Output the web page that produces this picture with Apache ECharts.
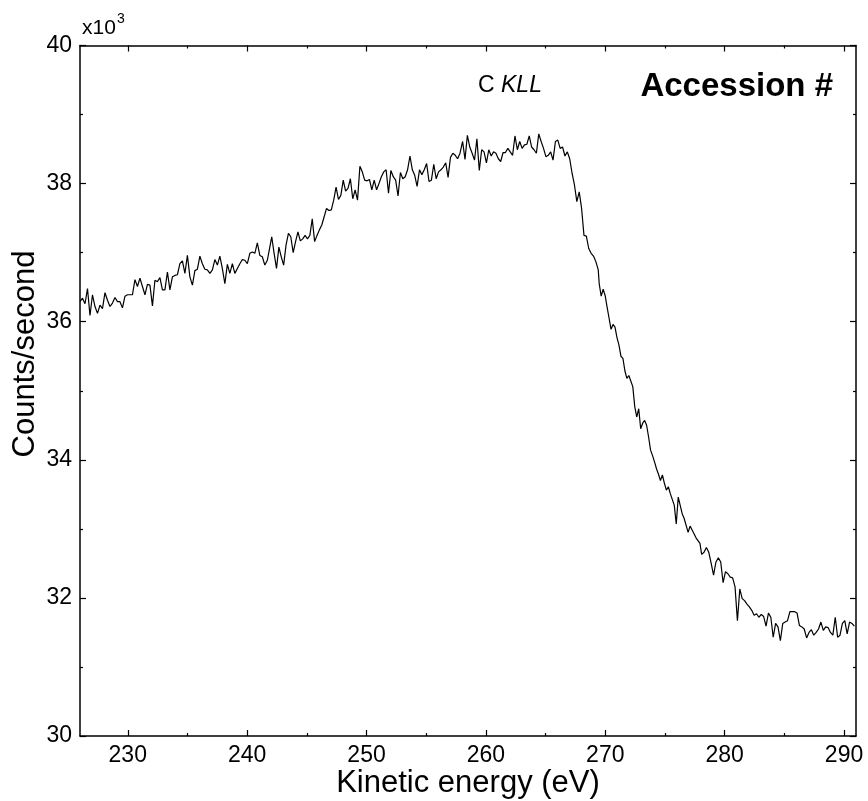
<!DOCTYPE html>
<html>
<head>
<meta charset="utf-8">
<script src="https://cdn.jsdelivr.net/npm/echarts@6/dist/echarts.min.js"></script>
<style>
  html, body { margin: 0; padding: 0; background: #fff; }
  #chart { width: 868px; height: 801px; }
</style>
</head>
<body>
<div id="chart"></div>
<script>
// C KLL Auger region, counts/second in units of 10^3
// each segment: energy where it starts / ends, and the readings in between
var seg1Range = [226.0, 241.9];
var seg1 = [36.29, 36.34, 36.26, 36.48, 36.09, 36.39, 36.22, 36.12, 36.24, 36.19, 36.42, 36.31, 36.22, 36.27, 36.35, 36.29,
    36.29, 36.20, 36.37, 36.39, 36.39, 36.39, 36.61, 36.51, 36.63, 36.51, 36.39, 36.54, 36.53, 36.23, 36.60, 36.58,
    36.64, 36.46, 36.46, 36.72, 36.46, 36.65, 36.67, 36.68, 36.84, 36.88, 36.70, 36.96, 36.65, 36.53, 36.74, 36.76,
    36.95, 36.84, 36.76, 36.75, 36.70, 36.75, 36.90, 36.82, 36.95, 36.77, 36.55, 36.83, 36.70, 36.84, 36.70, 36.77,
    36.84, 36.90, 36.89, 36.84, 36.99, 37.01, 36.99, 37.14, 36.96, 36.94, 36.82, 36.89, 37.08];

var seg2Range = [242.06, 257.83];
var seg2 = [37.23, 36.99, 36.77, 37.08, 36.94, 36.82, 37.11, 37.28, 37.23, 37.00, 37.16, 37.30, 37.17, 37.20, 37.25, 37.20,
    37.25, 37.49, 37.16, 37.25, 37.33, 37.40, 37.52, 37.64, 37.61, 37.62, 37.76, 37.95, 37.77, 37.83, 38.05, 37.89,
    37.93, 38.07, 37.78, 37.91, 37.76, 38.25, 38.17, 38.05, 38.04, 38.06, 37.91, 38.05, 37.91, 38.00, 38.10, 38.17,
    38.20, 37.86, 38.19, 38.10, 38.05, 37.82, 38.16, 38.07, 38.10, 38.20, 38.40, 38.20, 38.12, 37.96, 38.20, 38.13,
    38.20, 38.29, 38.03, 38.05, 38.28, 38.07, 38.17, 38.20, 38.24, 38.30, 38.09, 38.38, 38.44, 38.41, 38.36, 38.44];

var seg3Range = [258.05, 269.41];
var seg3 = [38.61, 38.35, 38.70, 38.53, 38.44, 38.34, 38.65, 38.19, 38.49, 38.46, 38.30, 38.49, 38.40, 38.46, 38.44, 38.36,
    38.32, 38.45, 38.45, 38.51, 38.46, 38.41, 38.69, 38.49, 38.61, 38.51, 38.56, 38.57, 38.69, 38.53, 38.49, 38.44,
    38.72, 38.61, 38.51, 38.39, 38.41, 38.46, 38.34, 38.61, 38.63, 38.51, 38.53, 38.40, 38.46, 38.36, 38.15, 37.98,
    37.74, 37.88, 37.64, 37.25, 37.24, 37.06, 36.99, 36.95, 36.87, 36.75];

var seg4Range = [269.49, 277.93];
var seg4 = [36.55, 36.37, 36.47, 36.38, 36.21, 36.05, 35.89, 35.96, 35.92, 35.77, 35.66, 35.50, 35.47, 35.29, 35.18, 35.22,
    35.24, 35.06, 34.77, 34.62, 34.74, 34.45, 34.53, 34.57, 34.50, 34.33, 34.14, 34.06, 33.97, 33.87, 33.79, 33.70,
    33.78, 33.66, 33.56, 33.61, 33.51, 33.50, 33.34, 33.07, 33.46, 33.34, 33.22, 33.15, 33.05, 32.95, 33.04, 33.05,
    32.93, 32.87, 32.83, 32.79];

var seg5Range = [278.07, 290.86];
var seg5 = [32.63, 32.66, 32.73, 32.66, 32.50, 32.33, 32.52, 32.58, 32.52, 32.22, 32.38, 32.35, 32.30, 32.29, 32.16, 31.67,
    32.13, 31.99, 31.96, 31.91, 31.87, 31.82, 31.75, 31.77, 31.72, 31.76, 31.73, 31.59, 31.78, 31.72, 31.43, 31.63,
    31.58, 31.38, 31.63, 31.65, 31.67, 31.80, 31.80, 31.80, 31.78, 31.60, 31.58, 31.55, 31.42, 31.50, 31.54, 31.46,
    31.50, 31.55, 31.65, 31.53, 31.58, 31.57, 31.50, 31.46, 31.72, 31.43, 31.46, 31.63, 31.67, 31.48, 31.65, 31.63,
    31.59];

var majorTicksX = [230, 240, 250, 260, 270, 280, 290];
var minorTicksX = [235, 245, 255, 265, 275, 285];

// spread each segment's readings evenly over its energy span
function toPoints(range, vals) {
    var out = [];
    var step = (range[1] - range[0]) / (vals.length - 1);
    for (var i = 0; i < vals.length; i++) {
        out.push([range[0] + i * step, vals[i]]);
    }
    return out;
}

var spectrum = [].concat(
    toPoints(seg1Range, seg1),
    toPoints(seg2Range, seg2),
    toPoints(seg3Range, seg3),
    toPoints(seg4Range, seg4),
    toPoints(seg5Range, seg5)
);

var font = 'Liberation Sans, Arial, sans-serif';
var black = '#000';

function xAx(pos, ticks, len, withLine, withLabels, name) {
    return {
        type: 'value',
        position: pos,
        min: 226,
        max: 291,
        name: name || '',
        nameLocation: 'middle',
        nameGap: 32,
        nameMoveOverlap: false,
        nameTextStyle: { fontFamily: font, fontSize: 31, color: black },
        axisLine: { show: withLine, onZero: false, lineStyle: { color: black, width: 1.5 } },
        axisTick: { show: true, inside: true, length: len, customValues: ticks, lineStyle: { color: black, width: 1.2 } },
        axisLabel: { show: withLabels, customValues: ticks, margin: 8, fontFamily: font, fontSize: 23, color: black },
        splitLine: { show: false }
    };
}

function yAx(pos, withLabels) {
    return {
        type: 'value',
        position: pos,
        min: 30,
        max: 40,
        interval: 2,
        axisLine: { show: true, onZero: false, lineStyle: { color: black, width: 1.5 } },
        axisTick: { show: true, inside: true, length: 6, lineStyle: { color: black, width: 1.2 } },
        minorTick: { show: true, splitNumber: 2, length: 3, lineStyle: { color: black, width: 1.2 } },
        axisLabel: { show: withLabels, margin: 8, fontFamily: font, fontSize: 23, color: black },
        splitLine: { show: false }
    };
}

var chart = echarts.init(document.querySelector('#chart'), null, { renderer: 'canvas' });
var option = {
    backgroundColor: '#fff',
    animation: false,
    grid: { left: 80, right: 12, top: 45.5, bottom: 65, containLabel: false, outerBoundsMode: 'none' },
    xAxis: [
        xAx('bottom', majorTicksX, 6, true, true, 'Kinetic energy (eV)'),
        xAx('bottom', minorTicksX, 3, false, false),
        xAx('top', majorTicksX, 6, true, false),
        xAx('top', minorTicksX, 3, false, false)
    ],
    yAxis: [
        yAx('left', true),
        yAx('right', false)
    ],
    graphic: [
        { type: 'text', left: 82, top: 18, style: { text: 'x10', font: '21px ' + font, fill: black } },
        { type: 'text', left: 117, top: 12, style: { text: '3', font: '14px ' + font, fill: black } },
        {
            type: 'text', x: 25, y: 354, rotation: Math.PI / 2,
            style: { text: 'Counts/second', font: '31px ' + font, fill: black, align: 'center', verticalAlign: 'middle' }
        },
        {
            type: 'text', left: 478, top: 74,
            style: {
                text: '{n|C }{i|KLL}',
                rich: {
                    n: { fontFamily: font, fontSize: 23, fill: black },
                    i: { fontFamily: font, fontSize: 23, fontStyle: 'italic', fill: black }
                }
            }
        },
        { type: 'text', right: 35, top: 70, style: { text: 'Accession #', font: 'bold 33px ' + font, fill: black } }
    ],
    series: [
        {
            name: 'C KLL',
            type: 'line',
            xAxisIndex: 0,
            yAxisIndex: 0,
            data: spectrum,
            showSymbol: false,
            symbol: 'none',
            lineStyle: { color: black, width: 1.2 }
        }
    ]
};

if (option && typeof option === 'object') {
    chart.setOption(option);
}

window.addEventListener('resize', function () {
    chart.resize();
})
</script>
</body>
</html>
